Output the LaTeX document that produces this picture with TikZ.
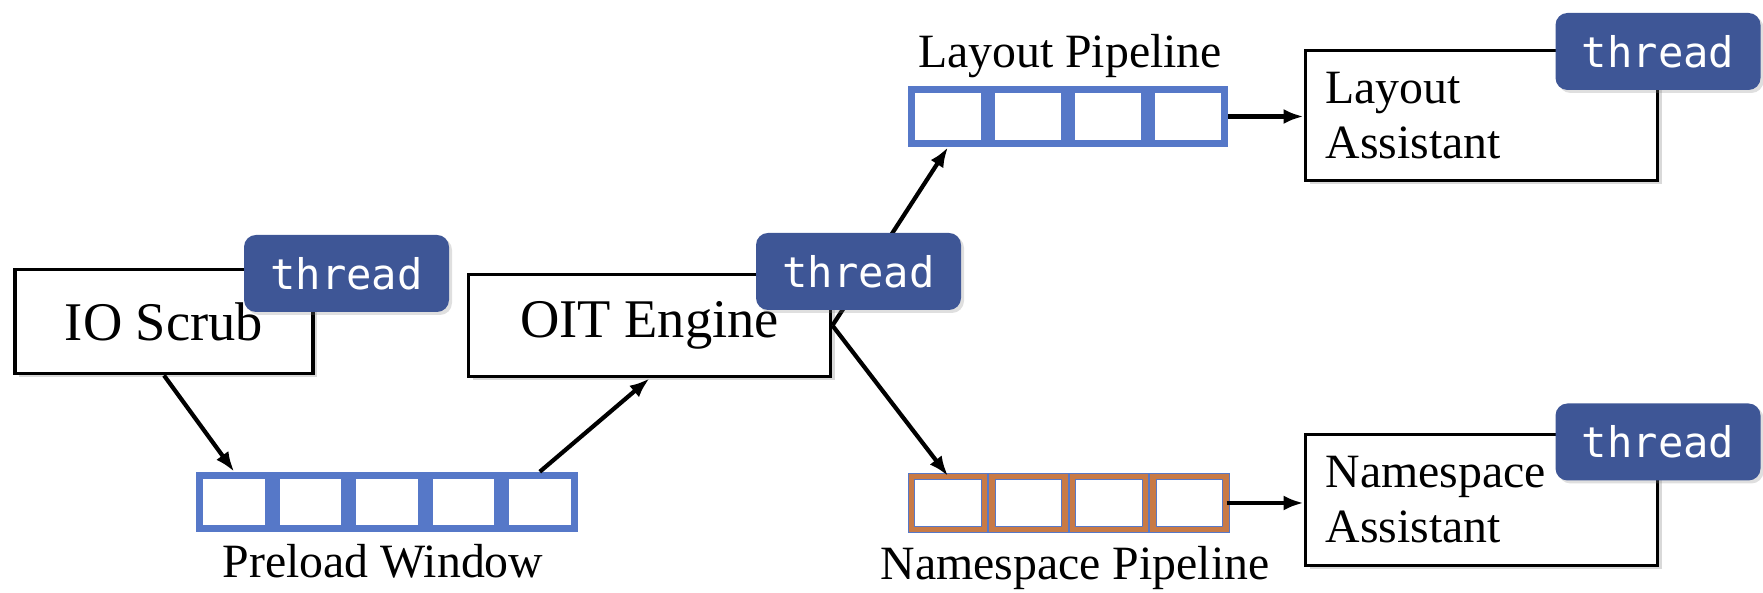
\documentclass[tikz,border=0pt]{standalone}
\usepackage{fontspec}
\setmainfont{Liberation Serif}
\setmonofont{DejaVu Sans Mono}
\usepackage{xcolor}
\usetikzlibrary{arrows.meta,shadows}
\definecolor{cellblue}{RGB}{86,120,200}
\definecolor{tagblue}{RGB}{62,86,150}
\definecolor{cellorange}{RGB}{200,122,70}

\begin{document}
\begin{tikzpicture}[font=\fontsize{13.6}{15.6}\selectfont,>={Latex[length=0.2cm,width=0.15cm]}]
    \tikzset{
      box/.style={draw, line width=1.1pt, fill=white, inner sep=0pt,
        drop shadow={opacity=0.3, shadow xshift=0.04cm, shadow yshift=-0.04cm}},
      big/.style={font=\fontsize{15.5}{18}\selectfont},
      cell/.style={draw=cellblue, line width=0.075cm, fill=white, minimum width=0.69cm, minimum height=0.53cm, inner sep=0pt},
      ocell/.style={cell, double=cellorange, double distance=0.055cm, line width=0.01cm},
      tag/.style={fill=tagblue, text=white, rounded corners=0.12cm, minimum width=2.05cm, minimum height=0.77cm, inner sep=0pt,
        font=\fontsize{12}{12}\ttfamily,
        drop shadow={opacity=0.25, shadow xshift=0.03cm, shadow yshift=-0.03cm}},
      arrow/.style={->, line width=1.2pt}
    }
    \useasboundingbox (0,0) rectangle (17.63,5.93);
    % stages
    \node[box, big, minimum width=2.98cm, minimum height=1.04cm] (io) at (1.64,2.715) {IO Scrub};
    \node[box, big, minimum width=3.62cm, minimum height=1.02cm] (oit) at (6.495,2.675) {OIT Engine};
    \node[box, minimum width=3.52cm, minimum height=1.30cm, text width=3.12cm, align=left] (la) at (14.815,4.775) {Layout\\Assistant};
    \node[box, minimum width=3.52cm, minimum height=1.31cm, text width=3.12cm, align=left] (na) at (14.815,0.93) {Namespace\\Assistant};
    % queues
    \foreach \i in {0,...,4} {
      \node[cell] (p\i) at (2.342+0.764*\i,0.91) {};
    }
    \foreach \i in {0,...,3} {
      \node[cell, minimum width=0.73cm, minimum height=0.54cm] (l\i) at (9.48+0.80*\i,4.765) {};
      \node[ocell, minimum width=0.73cm] (n\i) at (9.48+0.805*\i,0.90) {};
    }
    \node[anchor=base] (plabel) at (3.83,0.15) {Preload Window};
    \node[anchor=base] (llabel) at (10.70,5.25) {Layout Pipeline};
    \node[anchor=base] (nlabel) at (10.75,0.13) {Namespace Pipeline};
    % flow
    \draw[arrow] (io.south) -- (p0.north);
    \draw[arrow] (p4.north) -- (oit.south);
    \draw[arrow] (oit.east) -- (l0.south);
    \draw[arrow] (oit.east) -- (n0.north);
    \draw[arrow] (l3.east) -- (l3.east -| la.west);
    \draw[arrow] (n3.east) -- (n3.east -| na.west);
    % thread tags
    \node[tag] (iotag) at (3.465,3.195) {thread};
    \node[tag] (oittag) at (8.585,3.215) {thread};
    \node[tag] (latag) at (16.58,5.415) {thread};
    \node[tag] (natag) at (16.58,1.51) {thread};
  \end{tikzpicture}
\end{document}
